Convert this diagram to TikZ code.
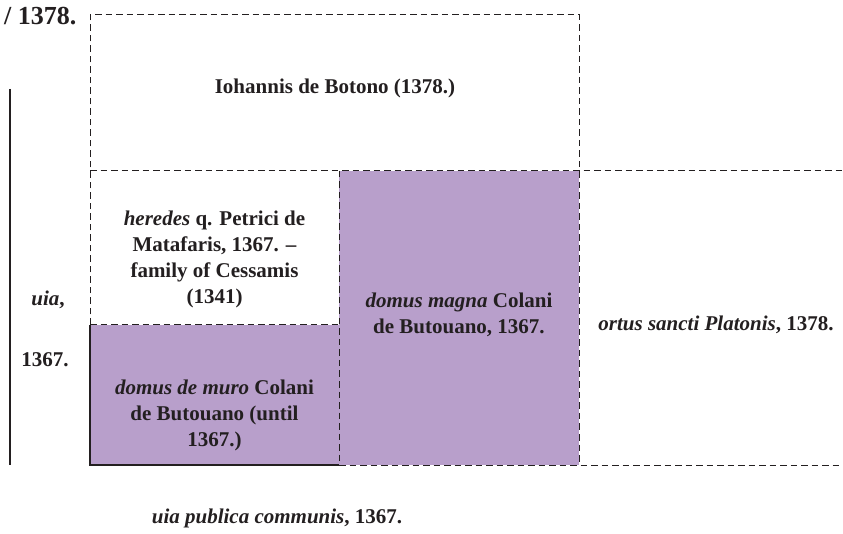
\documentclass[tikz,border=0pt]{standalone}
\usepackage{fontspec}
\setmainfont{Liberation Serif}
\definecolor{plotpurple}{HTML}{B89FCB}
\definecolor{inkc}{HTML}{231F20}
\begin{document}
\begin{tikzpicture}[x=1pt,y=-1pt,
  dashln/.style={draw=inkc, line width=1pt, dash pattern=on 6.5pt off 4pt},
  solidln/.style={draw=inkc, line width=1.4pt},
  lbl/.style={font=\fontsize{21}{26}\selectfont\bfseries, align=center, text=inkc, inner sep=0pt}]
\useasboundingbox (0,0) rectangle (843,534);
% fills
\fill[plotpurple] (90,325) rectangle (339,465);
\fill[plotpurple] (339,171) rectangle (579,465);
% solid lines
\draw[solidln] (10,89) -- (10,465);
\draw[solidln] (90,325) -- (90,465) -- (339,465);
% dashed lines
\draw[dashln] (90,325) -- (90,15) -- (579,15) -- (579,465);
\draw[dashln] (90,171) -- (843,171);
\draw[dashln] (90,325) -- (339,325);
\draw[dashln] (339,171) -- (339,465);
\draw[dashln] (339,465) -- (843,465);
% labels
\node[lbl, font=\fontsize{26}{30}\selectfont\bfseries, anchor=west] (yr) at (4,16) {/ 1378.};
\node[lbl] (botono) at (335,88) {Iohannis de Botono (1378.)};
\node[lbl] (heredes) at (214.5,259) {\textit{heredes} q. Petrici de\\Matafaris, 1367. –\\family of Cessamis\\(1341)};
\node[lbl] (muro) at (214.5,415) {\textit{domus de muro} Colani\\de Butouano (until\\1367.)};
\node[lbl] (magna) at (459,315) {\textit{domus magna} Colani\\de Butouano, 1367.};
\node[lbl] (ortus) at (716,325) {\textit{ortus sancti Platonis}, 1378.};
\node[lbl] (uia) at (48,300) {\textit{uia},};
\node[lbl] (yr2) at (45,360) {1367.};
\node[lbl] (pub) at (277,518) {\textit{uia publica communis}, 1367.};
\end{tikzpicture}
\end{document}
